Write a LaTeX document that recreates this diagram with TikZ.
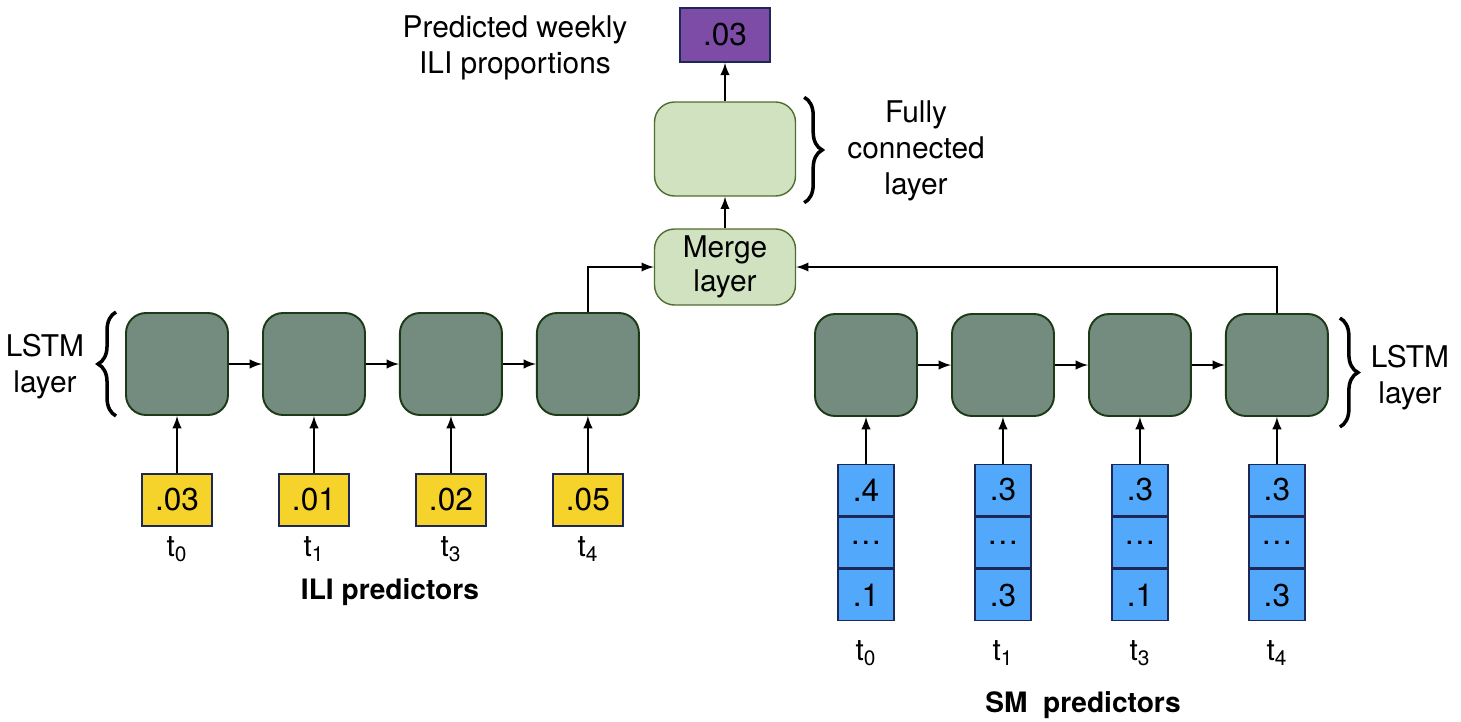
\documentclass[tikz,border=0pt]{standalone}
\usepackage{fontspec}
\setmainfont{TeX Gyre Heros}
\usetikzlibrary{shapes.geometric, arrows, calc, decorations.pathreplacing}
\definecolor{lstmgreen}{RGB}{116,140,128}
\definecolor{lstmedge}{RGB}{28,58,22}
\definecolor{lightgreen}{RGB}{208,226,192}
\definecolor{lightedge}{RGB}{78,110,48}
\definecolor{iliyellow}{RGB}{246,211,42}
\definecolor{smblue}{RGB}{82,168,250}
\definecolor{outpurple}{RGB}{124,76,166}
\definecolor{boxedge}{RGB}{30,40,86}
\tikzstyle{lstm} = [rectangle, rounded corners=0.4cm, minimum width=2.04cm, minimum height=2.04cm, draw=lstmedge, fill=lstmgreen, line width=1.1pt]
\tikzstyle{dense} = [rectangle, rounded corners=0.4cm, minimum width=2.82cm, text centered, align=center, draw=lightedge, fill=lightgreen, line width=0.8pt, font=\fontsize{17}{19}\selectfont]
\tikzstyle{ili_input} = [rectangle, minimum width=1.4cm, minimum height=1.04cm, inner sep=0pt, draw=boxedge, fill=iliyellow, line width=0.9pt, font=\fontsize{18}{20}\selectfont]
\tikzstyle{sm_cell} = [rectangle, minimum width=1.12cm, minimum height=1.02cm, inner sep=0pt, draw=boxedge, fill=smblue, line width=0.9pt, font=\fontsize{18}{20}\selectfont]
\tikzstyle{output_box} = [rectangle, minimum width=1.8cm, minimum height=1.08cm, inner sep=0pt, draw=boxedge, fill=outpurple, line width=0.9pt, font=\fontsize{18}{20}\selectfont]
\tikzstyle{label} = [align=center, inner sep=0pt, font=\fontsize{17}{20.5}\selectfont]
\tikzstyle{title} = [inner sep=0pt, font=\fontsize{16}{20}\selectfont\bfseries]
\tikzstyle{layer_brace} = [decorate, decoration={brace, amplitude=0.36cm}, line width=2pt]
\tikzstyle{arrow} = [line width=1.4pt,->,>=latex]

\begin{document}
\begin{tikzpicture}[x=0.02cm, y=-0.02cm, node distance=2.74cm]
    \useasboundingbox (0,0) rectangle (1461,721);

    % ILI branch
    \node (lstm1) [lstm] at (177,364) {};
    \node (lstm2) [lstm, right of=lstm1] {};
    \node (lstm3) [lstm, right of=lstm2] {};
    \node (lstm4) [lstm, right of=lstm3] {};

    \node (ili1) [ili_input] at (lstm1 |- 0,500) {.03};
    \node (ili2) [ili_input] at (lstm2 |- 0,500) {.01};
    \node (ili3) [ili_input] at (lstm3 |- 0,500) {.02};
    \node (ili4) [ili_input] at (lstm4 |- 0,500) {.05};

    \node (ilit1) [label] at (lstm1 |- 0,549) {t\textsubscript{0}};
    \node (ilit2) [label] at (lstm2 |- 0,549) {t\textsubscript{1}};
    \node (ilit3) [label] at (lstm3 |- 0,549) {t\textsubscript{3}};
    \node (ilit4) [label] at (lstm4 |- 0,549) {t\textsubscript{4}};

    \node (ili_title) [title] at (390,592) {ILI predictors};
    \node (ili_layer) [label] at (45,367) {LSTM\\layer};

    % SM branch
    \node (rlstm1) [lstm] at (866,365) {};
    \node (rlstm2) [lstm, right of=rlstm1] {};
    \node (rlstm3) [lstm, right of=rlstm2] {};
    \node (rlstm4) [lstm, right of=rlstm3] {};

    \node (sa1) [sm_cell] at (rlstm1 |- 0,490) {.4};
    \node (sb1) [sm_cell, anchor=north] at (sa1.south) {\dots};
    \node (sc1) [sm_cell, anchor=north] at (sb1.south) {.1};
    \node (sa2) [sm_cell] at (rlstm2 |- 0,490) {.3};
    \node (sb2) [sm_cell, anchor=north] at (sa2.south) {\dots};
    \node (sc2) [sm_cell, anchor=north] at (sb2.south) {.3};
    \node (sa3) [sm_cell] at (rlstm3 |- 0,490) {.3};
    \node (sb3) [sm_cell, anchor=north] at (sa3.south) {\dots};
    \node (sc3) [sm_cell, anchor=north] at (sb3.south) {.1};
    \node (sa4) [sm_cell] at (rlstm4 |- 0,490) {.3};
    \node (sb4) [sm_cell, anchor=north] at (sa4.south) {\dots};
    \node (sc4) [sm_cell, anchor=north] at (sb4.south) {.3};

    \node (smt1) [label] at (rlstm1 |- 0,653) {t\textsubscript{0}};
    \node (smt2) [label] at (rlstm2 |- 0,653) {t\textsubscript{1}};
    \node (smt3) [label] at (rlstm3 |- 0,653) {t\textsubscript{3}};
    \node (smt4) [label] at (rlstm4 |- 0,653) {t\textsubscript{4}};

    \node (sm_title) [title] at (1083,705) {SM\ \ predictors};
    \node (sm_layer) [label] at (1410,378) {LSTM\\layer};

    % merge and output
    \node (merge) [dense, minimum height=1.52cm] at (725,267) {Merge\\layer};
    \node (fc) [dense, minimum height=1.88cm] at (725,149) {};
    \node (fc_label) [label] at (916,151) {Fully\\connected\\layer};
    \node (out) [output_box] at (725,35) {.03};
    \node (out_label) [label] at (515,48) {Predicted weekly\\ILI proportions};

\draw [arrow] (lstm1) -- (lstm2);
\draw [arrow] (lstm2) -- (lstm3);
\draw [arrow] (lstm3) -- (lstm4);
\draw [arrow] (ili1) -- (lstm1);
\draw [arrow] (ili2) -- (lstm2);
\draw [arrow] (ili3) -- (lstm3);
\draw [arrow] (ili4) -- (lstm4);

\draw [arrow] (rlstm1) -- (rlstm2);
\draw [arrow] (rlstm2) -- (rlstm3);
\draw [arrow] (rlstm3) -- (rlstm4);
\draw [arrow] (sa1) -- (rlstm1);
\draw [arrow] (sa2) -- (rlstm2);
\draw [arrow] (sa3) -- (rlstm3);
\draw [arrow] (sa4) -- (rlstm4);

\draw [arrow] (lstm4.north) |- (merge.west);
\draw [arrow] (rlstm4.north) |- (merge.east);
\draw [arrow] (merge) -- (fc);
\draw [arrow] (fc) -- (out);

% braces
\draw [layer_brace] ([xshift=-0.18cm]lstm1.south west) -- ([xshift=-0.18cm]lstm1.north west);
\draw [layer_brace] ([xshift=0.22cm, yshift=-0.1cm]rlstm4.north east) -- ([xshift=0.22cm, yshift=-0.2cm]rlstm4.south east);
\draw [layer_brace] ([xshift=0.16cm, yshift=0.08cm]fc.north east) -- ([xshift=0.16cm, yshift=-0.12cm]fc.south east);

\end{tikzpicture}
\end{document}
